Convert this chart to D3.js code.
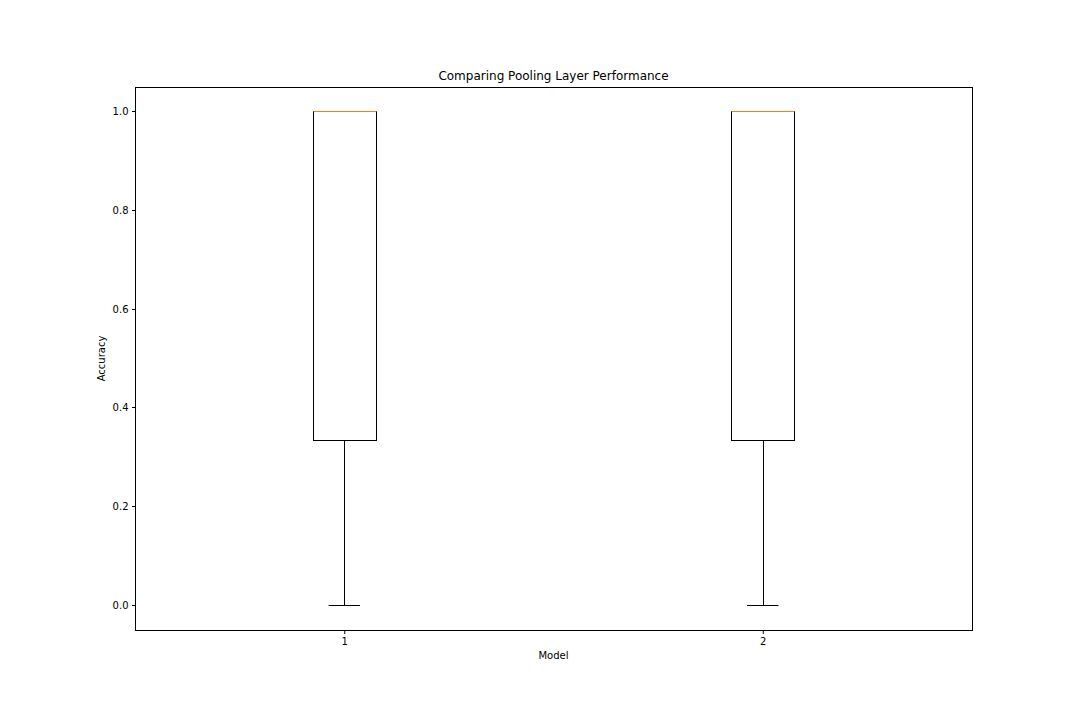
<!DOCTYPE html>
<html><head><meta charset="utf-8">
<script src="https://cdn.jsdelivr.net/npm/d3@7"></script>
<style>body{margin:0;background:#fff}text{font-family:"DejaVu Sans",sans-serif}</style>
</head><body><svg id="c" width="1080" height="720"></svg>
<script>
const models = [1, 2];
const whiskerLow = [0.0, 0.0];
const q1 = [0.3333, 0.3333];
const median = [1.0, 1.0];
const q3 = [1.0, 1.0];
const whiskerHigh = [1.0, 1.0];
const yTicks = [0.0, 0.2, 0.4, 0.6, 0.8, 1.0];

const svg = d3.select("#c");
const L = 135, R = 972, T = 87, B = 630;
const x = d3.scaleLinear().domain([0.5, 2.5]).range([L, R]);
const y = d3.scaleLinear().domain([-0.05, 1.05]).range([629.7, 86.3]);
const boxW = 0.15, capW = 0.075;
const py = v => Math.round(y(v)) + 0.5;

const data = models.map((m, i) => ({m, lo: whiskerLow[i], q1: q1[i], med: median[i], q3: q3[i], hi: whiskerHigh[i]}));
const g = svg.append("g");
data.forEach(d => {
  const cx = Math.round(x(d.m)) + 0.5;
  g.append("line").attr("x1", cx).attr("x2", cx).attr("y1", py(d.q1)).attr("y2", py(d.lo)).attr("stroke", "#000");
  g.append("line").attr("x1", cx).attr("x2", cx).attr("y1", py(d.q3)).attr("y2", py(d.hi)).attr("stroke", "#000");
  [d.lo, d.hi].forEach(v => g.append("line").attr("x1", x(d.m - capW/2)).attr("x2", x(d.m + capW/2))
    .attr("y1", py(v)).attr("y2", py(v)).attr("stroke", "#000"));
  const bx0 = Math.round(x(d.m - boxW/2)) + 0.5, bx1 = Math.round(x(d.m + boxW/2)) + 0.5;
  g.append("rect").attr("x", bx0).attr("width", bx1 - bx0)
    .attr("y", py(d.q3)).attr("height", py(d.q1) - py(d.q3))
    .attr("fill", "none").attr("stroke", "#000");
});
const gm = svg.append("g");
data.forEach(d => {
  const bx0 = Math.round(x(d.m - boxW/2)) + 0.5, bx1 = Math.round(x(d.m + boxW/2)) + 0.5;
  gm.append("line").attr("x1", bx0).attr("x2", bx1)
    .attr("y1", py(d.med)).attr("y2", py(d.med))
    .attr("stroke", "#ff7f0e").attr("stroke-width", 1.2);
});

svg.append("rect").attr("x", L + 0.5).attr("y", T + 0.5).attr("width", R - L).attr("height", B - T)
  .attr("fill", "none").attr("stroke", "#000");

const yAxis = svg.append("g").attr("transform", `translate(${L + 0.5},0)`)
  .call(d3.axisLeft(y).tickValues(yTicks).tickFormat(d3.format(".1f")).tickSize(3.5).tickPadding(3.5).tickSizeOuter(0));
const xAxis = svg.append("g").attr("transform", `translate(0,${B + 0.5})`)
  .call(d3.axisBottom(x).tickValues(models).tickFormat(d3.format("d")).tickSize(3.5).tickPadding(3.5).tickSizeOuter(0));
[yAxis, xAxis].forEach(a => {
  a.select(".domain").remove();
  a.selectAll("text").attr("font-size", 10).attr("font-family", "DejaVu Sans").attr("fill", "#000");
  a.selectAll("line").attr("stroke", "#000");
});
yAxis.selectAll(".tick").attr("transform", d => `translate(0,${py(d)})`);

svg.append("text").attr("x", (L + R) / 2).attr("y", T - 7).attr("text-anchor", "middle")
  .attr("font-size", 12).text("Comparing Pooling Layer Performance");
svg.append("text").attr("x", (L + R) / 2).attr("y", 659).attr("text-anchor", "middle")
  .attr("font-size", 10).text("Model");
svg.append("text").attr("transform", `translate(105,${(T + B) / 2}) rotate(-90)`).attr("text-anchor", "middle")
  .attr("font-size", 10).text("Accuracy");
</script></body></html>
